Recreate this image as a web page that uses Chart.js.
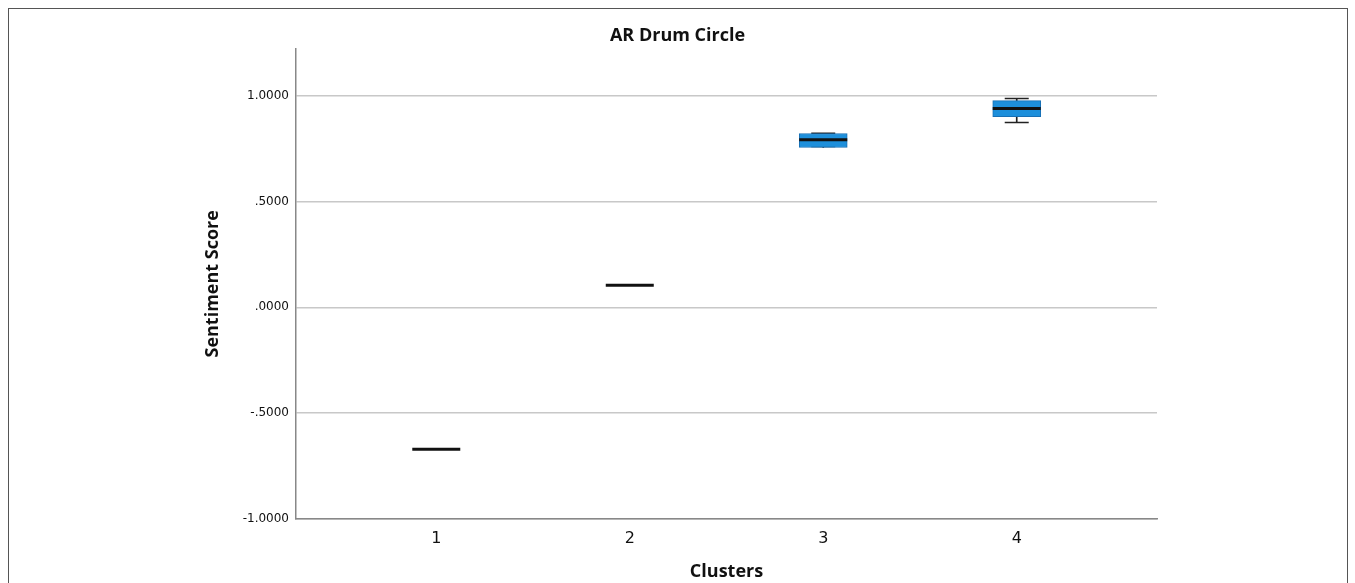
<!DOCTYPE html>
<html>
<head>
<meta charset="utf-8">
<script src="https://cdn.jsdelivr.net/npm/chart.js@4.4.1/dist/chart.umd.min.js"></script>
<style>
  html, body { margin: 0; padding: 0; background: #fff; }
  #wrap { position: relative; width: 1355px; height: 583px; overflow: hidden; }
  #chart { position: absolute; left: 0; top: 0; }
  #frame { position: absolute; left: 8px; top: 8px; width: 1338px; height: 620px;
           border: 1px solid #555; pointer-events: none; }
</style>
</head>
<body>
<div id="wrap">
  <canvas id="chart" width="1355" height="583"></canvas>
  <div id="frame"></div>
</div>
<script>
// boxplot values per cluster
const clusters = [1, 2, 3, 4];
const whiskerLow = [-0.670, 0.104, 0.760, 0.873];
const q1 = [-0.670, 0.104, 0.755, 0.901];
const medians = [-0.670, 0.104, 0.792, 0.939];
const q3 = [-0.670, 0.104, 0.821, 0.976];
const whiskerHigh = [-0.670, 0.104, 0.822, 0.986];

const yTicks = [-1, -0.5, 0, 0.5, 1];
const yTickLabels = ["-1.0000", "-.5000", ".0000", ".5000", "1.0000"];

const ctx = document.getElementById("chart").getContext("2d");

const boxData = clusters.map((c, i) => ({ x: c, y: [q1[i], q3[i]] }));
const lowWhisker = clusters.map((c, i) => ({ x: c, y: [whiskerLow[i], q1[i]] }));
const highWhisker = clusters.map((c, i) => ({ x: c, y: [q3[i], whiskerHigh[i]] }));
const caps = clusters.flatMap((c, i) => [
  { x: c, y: whiskerLow[i] },
  { x: c, y: whiskerHigh[i] },
]);
const medianPts = clusters.map((c, i) => ({ x: c, y: medians[i] }));

new Chart(ctx, {
  data: {
    datasets: [
      {
        type: "bar",
        data: lowWhisker,
        backgroundColor: "#222",
        barThickness: 1,
        grouped: false,
        order: 5,
      },
      {
        type: "bar",
        data: highWhisker,
        backgroundColor: "#222",
        barThickness: 1,
        grouped: false,
        order: 5,
      },
      {
        type: "scatter",
        data: caps,
        pointStyle: "line",
        radius: 12,
        borderWidth: 1.5,
        borderColor: "#222",
        order: 4,
      },
      {
        type: "bar",
        data: boxData,
        backgroundColor: "#1d8fdb",
        borderColor: "#1870b5",
        borderWidth: 1,
        borderSkipped: false,
        barThickness: 48,
        grouped: false,
        order: 3,
      },
      {
        type: "scatter",
        data: medianPts,
        pointStyle: "line",
        radius: 24,
        borderWidth: 3,
        borderColor: "#111",
        order: 1,
      },
    ],
  },
  options: {
    responsive: false,
    animation: false,
    layout: { padding: 0 },
    plugins: {
      legend: { display: false },
      tooltip: { enabled: false },
      title: {
        display: true,
        text: "AR Drum Circle",
        color: "#111",
        font: { family: "Open Sans", size: 18, weight: "bold" },
        padding: { top: 25, bottom: 2 },
      },
    },
    scales: {
      x: {
        type: "linear",
        min: 0.275,
        max: 4.725,
        offset: false,
        afterBuildTicks: (scale) => {
          scale.ticks = clusters.map((v) => ({ value: v }));
        },
        afterFit: (scale) => {
          scale.height = 64;
        },
        grid: { display: false, drawTicks: false },
        border: { display: true, color: "#888", width: 1.5 },
        ticks: {
          color: "#111",
          padding: 10,
          font: { family: "DejaVu Sans", size: 16 },
          callback: (v) => String(v),
        },
        title: {
          display: true,
          text: "Clusters",
          color: "#111",
          font: { family: "Open Sans", size: 18, weight: "bold" },
          padding: { top: 0, bottom: 0 },
        },
      },
      y: {
        type: "linear",
        min: -1,
        max: 1.222,
        afterBuildTicks: (scale) => {
          scale.ticks = yTicks.map((v) => ({ value: v }));
        },
        afterFit: (scale) => {
          scale.width = 296;
        },
        grid: { color: "#c8c8c8", lineWidth: 1.5, drawTicks: false },
        border: { display: true, color: "#888", width: 1.5 },
        ticks: {
          color: "#111",
          padding: 7,
          font: { family: "DejaVu Sans", size: 12 },
          callback: (v) => yTickLabels[yTicks.indexOf(v)],
        },
        title: {
          display: true,
          text: "Sentiment Score",
          color: "#111",
          font: { family: "Open Sans", size: 18, weight: "bold" },
          padding: { top: 202, bottom: 0 },
        },
      },
      // empty right-hand strip so the plot ends where the reference does
      yRight: {
        type: "linear",
        position: "right",
        display: true,
        grid: { display: false, drawTicks: false },
        border: { display: false },
        ticks: { display: false },
        afterFit: (scale) => {
          scale.width = 198;
        },
      },
    },
  },
});
</script>
</body>
</html>
